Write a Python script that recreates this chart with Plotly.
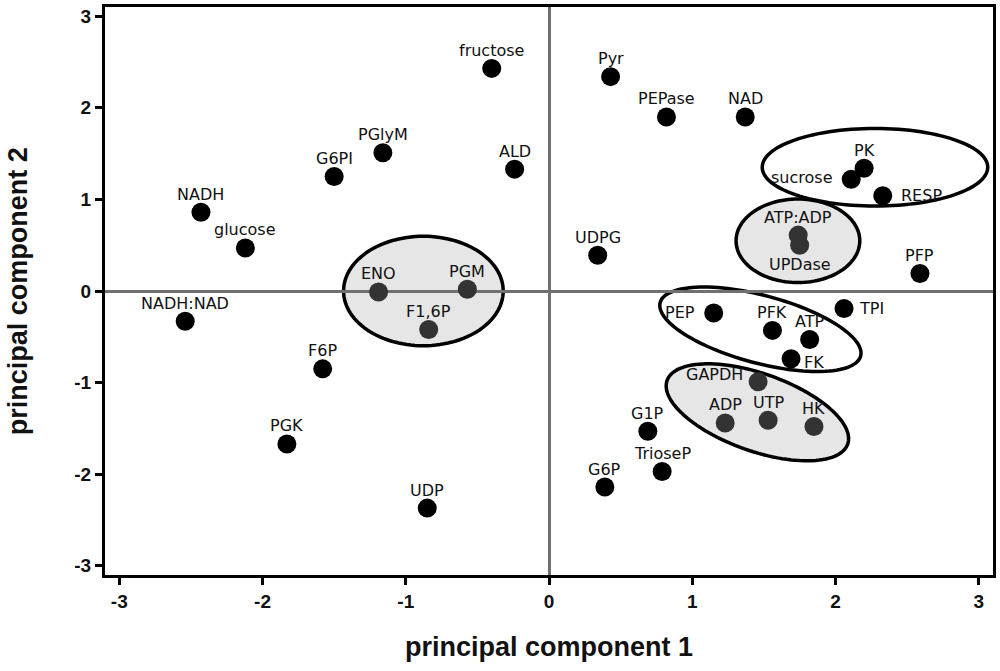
import numpy as np
import plotly.graph_objects as go

# PCA scores (component 1, component 2)
names = [
    "fructose", "Pyr", "PEPase", "NAD", "PGlyM", "G6PI", "ALD", "NADH", "glucose",
    "UDPG", "PK", "sucrose", "RESP", "ATP:ADP", "UPDase", "PFP", "ENO", "PGM",
    "F1,6P", "NADH:NAD", "F6P", "PGK", "UDP", "PEP", "TPI", "PFK", "ATP", "FK",
    "GAPDH", "ADP", "UTP", "HK", "G1P", "TrioseP", "G6P",
]
pc1 = [
    -0.40, 0.43, 0.82, 1.37, -1.16, -1.50, -0.24, -2.43, -2.12,
    0.34, 2.20, 2.11, 2.33, 1.74, 1.75, 2.59, -1.19, -0.57,
    -0.84, -2.54, -1.58, -1.83, -0.85, 1.15, 2.06, 1.56, 1.82, 1.69,
    1.46, 1.23, 1.53, 1.85, 0.69, 0.79, 0.39,
]
pc2 = [
    2.43, 2.34, 1.90, 1.90, 1.51, 1.25, 1.33, 0.86, 0.47,
    0.39, 1.34, 1.22, 1.04, 0.61, 0.50, 0.19, -0.01, 0.02,
    -0.42, -0.33, -0.85, -1.67, -2.37, -0.24, -0.19, -0.43, -0.53, -0.74,
    -0.99, -1.44, -1.41, -1.48, -1.53, -1.97, -2.14,
]
tick_vals = [-3, -2, -1, 0, 1, 2, 3]
tick_text = ["-3", "-2", "-1", "0", "1", "2", "3"]

# clusters circled on the plot (shaded ones get a grey fill)
shaded_groups = [["ENO", "PGM", "F1,6P"], ["ATP:ADP", "UPDase"], ["GAPDH", "ADP", "UTP", "HK"]]

# label placement: default is above the point
label_pos = {
    "sucrose": ("left", -17, 2),
    "RESP": ("right", 16, 0),
    "TPI": ("right", 13, 0),
    "PEP": ("left", -17, 0),
    "FK": ("right", 11, -4),
    "GAPDH": ("left", -13, 7),
    "UPDase": ("bottom", 0, -19),
}

W, H = 1000, 671
ML, MR, MT, MB = 105, 5, 4, 96
XR = [-3.1, 3.1]
YR = [-3.1, 3.1]
sx = (W - ML - MR) / (XR[1] - XR[0])
sy = (H - MT - MB) / (YR[1] - YR[0])

# ellipses: centre (data), semi axes (px), screen angle (deg), filled
ellipses = [
    (-0.877, 0.0, 80, 55, 0, True),
    (2.276, 1.351, 113, 39, 0, False),
    (1.738, 0.548, 62, 42, 0, True),
    (1.476, -0.418, 104, 34, 15, False),
    (1.455, -1.324, 96, 39, 19.5, True),
]


def ellipse_path(cx, cy, a, b, ang):
    th = np.radians(ang)
    t = np.linspace(0, 2 * np.pi, 120, endpoint=False)
    dx = a * np.cos(t) * np.cos(th) - b * np.sin(t) * np.sin(th)
    dy = a * np.cos(t) * np.sin(th) + b * np.sin(t) * np.cos(th)
    xs = cx + dx / sx
    ys = cy - dy / sy
    pts = [f"{x:.4f},{y:.4f}" for x, y in zip(xs, ys)]
    return "M " + " L ".join(pts) + " Z"


in_shaded = set(n for g in shaded_groups for n in g)
colors = ["#333333" if n in in_shaded else "#000000" for n in names]

fig = go.Figure()

fig.add_trace(go.Scatter(
    x=pc1, y=pc2, mode="markers",
    marker=dict(size=19, color=colors, line=dict(width=0)),
    text=names, hoverinfo="text", showlegend=False,
))

shapes = []
for cx, cy, a, b, ang, filled in ellipses:
    shapes.append(dict(
        type="path", path=ellipse_path(cx, cy, a, b, ang),
        xref="x", yref="y", layer="below",
        line=dict(color="black", width=3.5),
        fillcolor="#e6e6e6" if filled else "rgba(0,0,0,0)",
    ))

annotations = []
for n, x, y in zip(names, pc1, pc2):
    pos, dx, dy = label_pos.get(n, ("top", 0, 18))
    xanchor = {"left": "right", "right": "left"}.get(pos, "center")
    annotations.append(dict(
        x=x, y=y, text=n, showarrow=False, xanchor=xanchor, yanchor="middle",
        xshift=dx, yshift=dy,
        font=dict(family="DejaVu Sans", size=16, color="#111111"),
    ))

plot_h = H - MT - MB
plot_w = W - ML - MR
title_font = dict(family="Liberation Sans", size=27, color="#111111", weight="bold")
annotations.append(dict(
    text="principal component 1", xref="paper", yref="paper",
    x=0.5, y=(575 - 647) / plot_h, xanchor="center", yanchor="middle",
    showarrow=False, font=title_font,
))
annotations.append(dict(
    text="principal component 2", xref="paper", yref="paper",
    x=(18 - ML) / plot_w, y=0.5, xanchor="center", yanchor="middle",
    textangle=-90, showarrow=False, font=title_font,
))

axis_style = dict(
    showgrid=False, zeroline=True, zerolinecolor="#707070", zerolinewidth=3,
    showline=True, linecolor="black", linewidth=3, mirror=True,
    ticks="outside", ticklen=7, tickwidth=2.5, tickcolor="black",
    tickmode="array", tickvals=tick_vals, ticktext=tick_text,
    tickfont=dict(family="Liberation Sans", size=19, color="#111111", weight="bold"),
)

fig.update_layout(
    width=W, height=H,
    margin=dict(l=ML, r=MR, t=MT, b=MB),
    plot_bgcolor="white", paper_bgcolor="white",
    shapes=shapes, annotations=annotations,
    xaxis=dict(range=XR, **axis_style),
    yaxis=dict(range=YR, **axis_style),
)

fig.write_html(
    "out.html",
    config={"displayModeBar": False},
    post_script="document.body.style.margin='0';",
)
